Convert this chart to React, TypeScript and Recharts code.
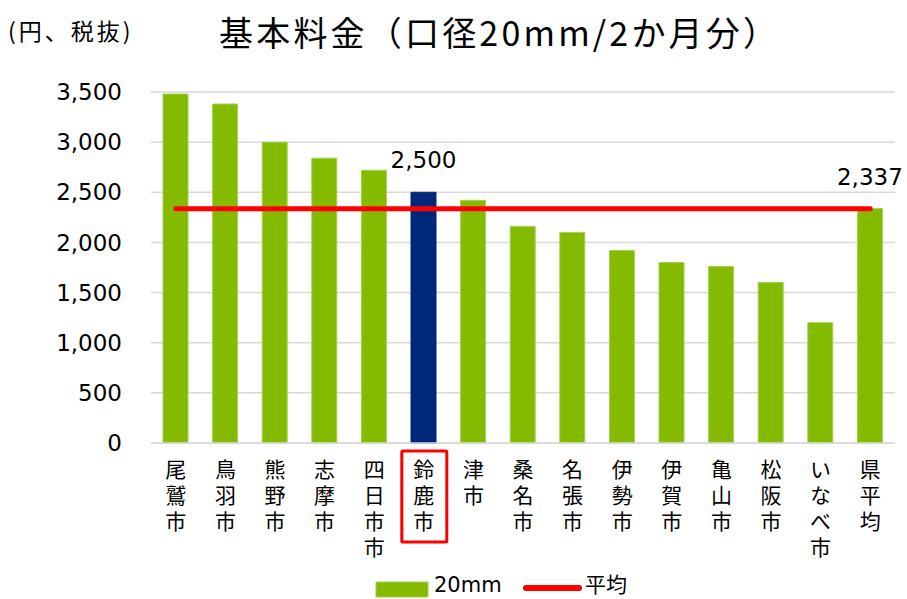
import React from 'react';
import { ComposedChart, Bar, Line, Cell, XAxis, YAxis, CartesianGrid, LabelList, Legend } from 'recharts';

// 基本料金（口径20mm/2か月分）, 円・税抜
const cities = ['尾鷲市', '鳥羽市', '熊野市', '志摩市', '四日市市', '鈴鹿市', '津市', '桑名市', '名張市', '伊勢市', '伊賀市', '亀山市', '松阪市', 'いなべ市', '県平均'];
const fee20mm = [3480, 3380, 3000, 2840, 2720, 2500, 2420, 2160, 2100, 1920, 1800, 1760, 1600, 1200, 2337];
const average = [2337, 2337, 2337, 2337, 2337, 2337, 2337, 2337, 2337, 2337, 2337, 2337, 2337, 2337, 2337];
const yTicks = [0, 500, 1000, 1500, 2000, 2500, 3000, 3500];

const highlightCity = '鈴鹿市';
const labelledCities = ['鈴鹿市', '県平均'];

const data = cities.map((name, i) => ({ name, fee: fee20mm[i], avg: average[i] }));

const GREEN = '#84BB00';
const NAVY = '#00287A';
const RED = '#FF0000';
const NUM_FONT = '"DejaVu Sans", sans-serif';
const JP_FONT = '"Noto Sans CJK JP", sans-serif';

// city names are written top to bottom, one character per row
const CityTick = (props: any) => {
  const { x, y, payload } = props;
  const boxed = payload.value === highlightCity;
  return (
    <g>
      {boxed && (
        <rect x={x - 22} y={y + 8} width={45} height={91} fill="none" stroke={RED} strokeWidth={3} rx={1} />
      )}
      <text
        x={x}
        y={y + 16}
        style={{ writingMode: 'vertical-rl', letterSpacing: 5 }}
        fontSize={21}
        fontFamily={JP_FONT}
        fill="#000"
      >
        {payload.value}
      </text>
    </g>
  );
};

const ValueLabel = (props: any) => {
  const { x, y, width, value, index } = props;
  if (!labelledCities.includes(cities[index])) return null;
  return (
    <text
      x={x + width / 2}
      y={y - 32}
      textAnchor="middle"
      dominantBaseline="central"
      fontSize={23}
      fontFamily={NUM_FONT}
      fill="#000"
    >
      {Number(value).toLocaleString('en-US')}
    </text>
  );
};

const LegendBox = () => (
  <svg width={280} height={29} style={{ overflow: 'visible' }}>
    <rect x={0} y={12} width={52} height={15} fill={GREEN} stroke="#A2D154" />
    <text x={58} y={15} dominantBaseline="central" fontSize={21} fontFamily={NUM_FONT} fill="#000">20mm</text>
    <line x1={150} y1={18} x2={203} y2={18} stroke={RED} strokeWidth={6} strokeLinecap="round" />
    <text x={209} y={13} dominantBaseline="central" fontSize={21} fontFamily={JP_FONT} fill="#000">平均</text>
  </svg>
);

export default function App() {
  return (
    <div style={{ position: 'fixed', top: 0, left: 0, width: 907, height: 599, background: '#fff', overflow: 'hidden' }}>
      <div style={{ position: 'absolute', left: 8, top: 13, fontSize: 23, fontFamily: JP_FONT, letterSpacing: 3, color: '#000' }}>
        (円、税抜)
      </div>
      <svg style={{ position: 'absolute', left: 0, top: 0 }} width={907} height={60}>
        <text x={219} y={31} dominantBaseline="central" fontSize={34} fontFamily={JP_FONT} textLength={558} lengthAdjust="spacing" fill="#000">
          基本料金（口径20mm/2か月分）
        </text>
      </svg>
      <ComposedChart
        width={907}
        height={599}
        data={data}
        margin={{ top: 92, right: 12, bottom: 17, left: 11 }}
        style={{ position: 'absolute', left: 0, top: 0 }}
      >
        <CartesianGrid vertical={false} stroke="#D9D9D9" strokeWidth={1.5} />
        <XAxis
          dataKey="name"
          interval={0}
          tickLine={false}
          tickSize={0}
          tickMargin={0}
          height={110}
          axisLine={{ stroke: '#D9D9D9', strokeWidth: 1.5 }}
          tick={<CityTick />}
        />
        <YAxis
          width={140}
          domain={[0, 3500]}
          ticks={yTicks}
          tickLine={false}
          axisLine={false}
          tickSize={0}
          tickMargin={29}
          tickFormatter={(v: number) => v.toLocaleString('en-US')}
          tick={{ fontSize: 23, fontFamily: NUM_FONT, fill: '#000' }}
        />
        <Bar dataKey="fee" name="20mm" barSize={25} fill={GREEN} stroke="#A2D154" strokeWidth={1} isAnimationActive={false}>
          {data.map((d) => (
            <Cell key={d.name} fill={d.name === highlightCity ? NAVY : GREEN} stroke={d.name === highlightCity ? NAVY : '#A2D154'} />
          ))}
          <LabelList dataKey="fee" content={<ValueLabel />} />
        </Bar>
        <Line
          dataKey="avg"
          name="平均"
          type="linear"
          stroke={RED}
          strokeWidth={5}
          strokeLinecap="round"
          dot={false}
          activeDot={false}
          isAnimationActive={false}
        />
        <Legend
          verticalAlign="bottom"
          content={<LegendBox />}
          wrapperStyle={{ left: 376, top: 570, bottom: 'auto', width: 280, height: 29 }}
        />
      </ComposedChart>
    </div>
  );
}
